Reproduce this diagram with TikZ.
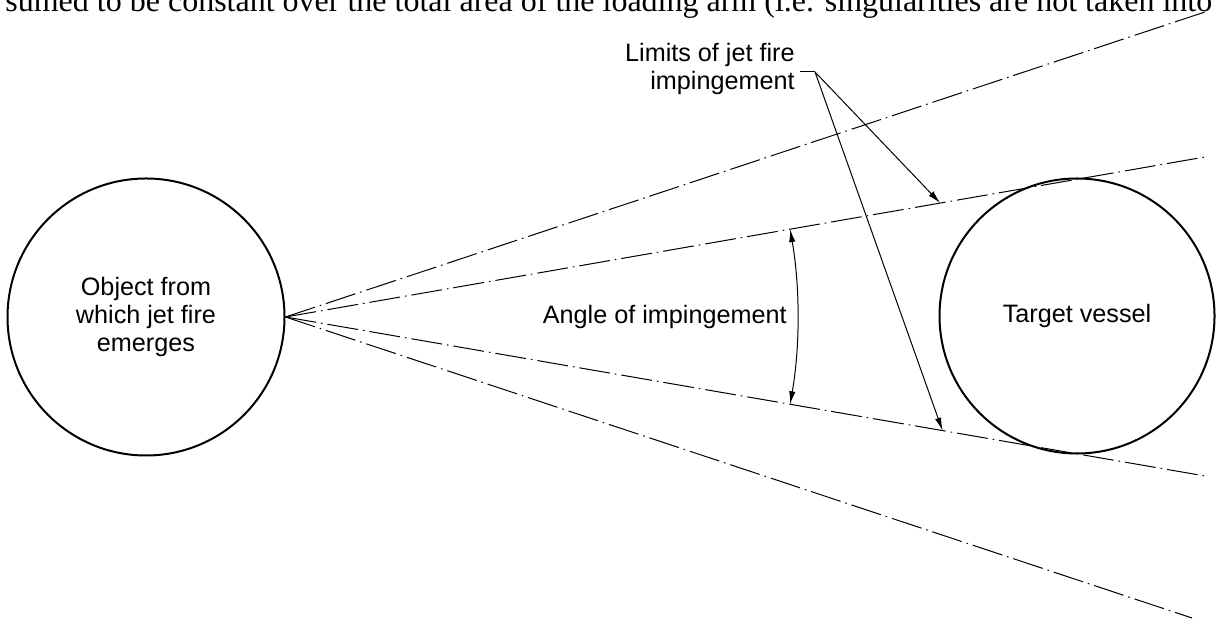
\documentclass[tikz,border=0pt]{standalone}
\usepackage{fontspec}
\setmainfont{Liberation Sans}
\newfontfamily\pagefont{Liberation Serif}
\usetikzlibrary{arrows.meta, calc}
\tikzstyle{vessel} = [circle, draw=black, line width=1pt, inner sep=0pt, align=center, font=\fontsize{12.6}{14}\selectfont]
\tikzstyle{note} = [inner sep=0pt, font=\fontsize{12.6}{14}\selectfont]
\tikzstyle{jet} = [line width=0.5pt, dash pattern=on 15.5pt off 2.5pt on 0.8pt off 2.5pt]
\tikzstyle{leader} = [line width=0.5pt]
\tikzstyle{arrow} = [line width=0.5pt, -{Latex[length=6.5pt,width=3.2pt]}]
\tikzstyle{twoarrow} = [line width=0.5pt, {Latex[length=6.5pt,width=3.2pt]}-{Latex[length=6.5pt,width=3.2pt]}]

\begin{document}
\begin{tikzpicture}[x=0.5pt, y=0.5pt]
      \useasboundingbox (0,0) rectangle (1218,624);
      % cut-off line of the page above
      \node (page) [anchor=base west, inner sep=0pt, font=\pagefont\fontsize{16}{18}\selectfont] at (5,612) {sumed to be constant over the total area of the loading arm (i.e. singularities are not taken into};

      \node (obj) [vessel, minimum size=138.5pt] at (146,307) {Object from\\which jet fire\\emerges};
      \node (tgt) [vessel, minimum size=137.5pt] at (1077,308) {Target vessel};

      \coordinate (apex) at (obj.east);
      \coordinate (uo) at (1208,613);
      \coordinate (ui) at (1205,467);
      \coordinate (li) at (1205,148);
      \coordinate (lo) at (1192,6);

      \draw[jet] (apex) -- (uo);
      \draw[jet] (apex) -- (ui);
      \draw[jet] (apex) -- (li);
      \draw[jet] (apex) -- (lo);

      % angle between the two inner limits
      \coordinate (alo) at ($(apex)!0.5488!(li)$);
      \draw[twoarrow] (alo) arc[start angle=-9.8, end angle=9.86, radius=256.5pt];
      \node (ang) [note, anchor=east] at (787,307) {Angle of impingement};

      % limits label with leaders
      \node (lim) [note, anchor=east, align=right] at (795,555) {Limits of jet fire\\impingement};
      \coordinate (tick) at (800,552);
      \coordinate (knee) at (815,552);
      \coordinate (hu) at ($(apex)!0.712!(ui)$);
      \coordinate (hl) at ($(apex)!0.7145!(li)$);
      \draw[leader] (tick) -- (knee);
      \draw[arrow] (knee) -- (hu);
      \draw[arrow] (knee) -- (hl);
    \end{tikzpicture}
\end{document}
